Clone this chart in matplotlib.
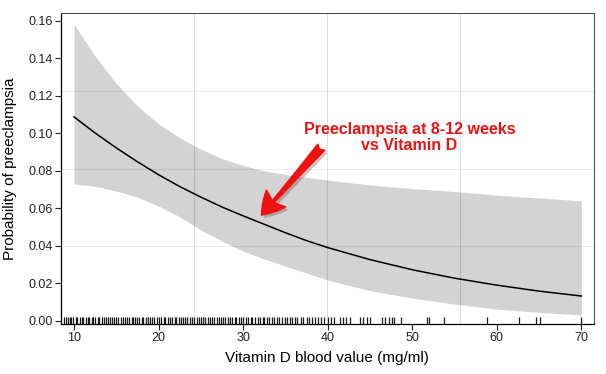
import matplotlib
matplotlib.use("Agg")
import matplotlib.pyplot as plt
import matplotlib.patheffects as pe

plt.rcParams['font.family'] = ['Liberation Sans', 'DejaVu Sans']

# fitted curve and confidence band
vit_d = [10, 12.5, 15, 17.5, 20, 22.5, 25, 27.5, 30, 32.5, 35, 37.5, 40,
         45, 50, 55, 60, 65, 70]
prob = [0.1087, 0.1001, 0.0922, 0.0848, 0.0779, 0.0716, 0.0660, 0.0607,
        0.0560, 0.0515, 0.0470, 0.0428, 0.0391, 0.0327, 0.0273, 0.0228,
        0.0191, 0.0159, 0.0133]
upper = [0.158, 0.141, 0.1265, 0.1145, 0.1050, 0.0975, 0.0915, 0.0865,
         0.0828, 0.0800, 0.0780, 0.0765, 0.0750, 0.0725, 0.0705, 0.069,
         0.067, 0.0655, 0.064]
lower = [0.0730, 0.0718, 0.0692, 0.0660, 0.0612, 0.0555, 0.0485, 0.0425,
         0.0372, 0.0330, 0.0292, 0.0255, 0.0218, 0.0162, 0.0122, 0.0090,
         0.0063, 0.0046, 0.0032]

# observed vitamin D values (rug)
rug_x = [8.8, 9.0, 9.3, 9.5, 9.6, 9.9, 10.2, 10.4, 10.7, 10.9, 11.1, 11.4,
         11.6, 11.8, 12.1, 12.3, 12.5, 12.8, 13.0, 13.3, 13.5, 13.8, 14.0,
         14.2, 14.5, 14.7, 15.0, 15.2, 15.5, 15.8, 16.0, 16.3, 16.5, 16.8,
         17.0, 17.2, 17.5, 17.7, 18.0, 18.2, 18.5, 18.7, 19.0, 19.2, 19.5,
         19.8, 20.0, 20.3, 20.6, 20.8, 21.1, 21.3, 21.6, 21.9, 22.1, 22.4,
         22.6, 22.9, 23.1, 23.4, 23.7, 24.0, 24.2, 24.5, 24.8, 25.0, 25.3,
         25.5, 25.8, 26.1, 26.3, 26.6, 26.9, 27.1, 27.4, 27.6, 27.9, 28.2,
         28.4, 28.7, 29.0, 29.2, 29.5, 29.8, 30.0, 30.3, 30.6, 30.9, 31.1,
         31.4, 31.7, 32.0, 32.3, 32.5, 32.8, 33.1, 33.4, 33.7, 34.0, 34.3,
         34.6, 34.9, 35.2, 35.5, 35.8, 36.1, 36.4, 36.8, 37.1, 37.5, 37.8,
         38.2, 38.5, 38.9, 39.2, 39.6, 40.0, 40.4, 40.8, 41.4, 41.8, 42.2,
         42.6, 43.8, 44.2, 44.6, 45.0, 46.4, 46.8, 47.2, 47.6, 47.9, 48.7,
         51.8, 52.0, 53.7, 58.8, 62.6, 64.6, 65.1, 70.0]

xticks = [10, 20, 30, 40, 50, 60, 70]
yticks = [0.00, 0.02, 0.04, 0.06, 0.08, 0.10, 0.12, 0.14, 0.16]

fig = plt.figure(figsize=(6.06, 3.74), dpi=100)
ax = fig.add_axes([0.1007, 0.1337, 0.8787, 0.8313])

ax.fill_between(vit_d, lower, upper, color='#d3d3d3', lw=0, zorder=1)
ax.plot(vit_d, prob, color='black', lw=1.1, zorder=3)

# grid at quarters of the panel
for f in [0.25, 0.5, 0.75]:
    ax.plot([f, f], [0, 1], transform=ax.transAxes, color='black',
            alpha=0.12, lw=0.8, zorder=2)
    ax.plot([0, 1], [f, f], transform=ax.transAxes, color='black',
            alpha=0.08, lw=0.8, zorder=2)

# rug
ax.vlines(rug_x, 0, 0.0225, transform=ax.get_xaxis_transform(),
          color='#1a1a1a', lw=0.9, zorder=4)

ax.set_xlim(8.46, 71.44)
ax.set_ylim(-0.0016, 0.164)
ax.set_xticks(xticks)
ax.set_yticks(yticks)
ax.set_yticklabels(['%.2f' % v for v in yticks])
ax.tick_params(direction='out', length=4, width=0.8, labelsize=9,
               colors='#222222', pad=2)

for s in ['top', 'right']:
    ax.spines[s].set_color('#555555')
    ax.spines[s].set_linewidth(0.8)
for s in ['left', 'bottom']:
    ax.spines[s].set_color('black')
    ax.spines[s].set_linewidth(0.9)

ax.set_xlabel('Vitamin D blood value (mg/ml)', fontsize=11, labelpad=5)
ax.set_ylabel('Probability of preeclampsia', fontsize=11, labelpad=8)

red = '#ee1111'
ax.text(49.67, 0.0979, 'Preeclampsia at 8-12 weeks\nvs Vitamin D',
        color=red, fontsize=11.5, fontweight='bold', ha='center',
        va='center', linespacing=1.1, zorder=6)
ax.annotate('', xy=(32.16, 0.0564), xytext=(39.24, 0.0926),
            arrowprops=dict(arrowstyle='fancy,head_length=1.0,head_width=1.15,tail_width=0.42',
                            color=red, shrinkA=0, shrinkB=0, mutation_scale=16,
                            path_effects=[pe.withSimplePatchShadow(offset=(2, -2), alpha=0.25)]),
            zorder=6)

fig.savefig('out.png', dpi=100)
